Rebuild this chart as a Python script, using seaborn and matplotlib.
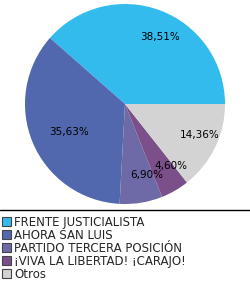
import matplotlib
matplotlib.use("Agg")
import matplotlib.pyplot as plt
import matplotlib.patches as mpatches
from matplotlib.lines import Line2D
import seaborn as sns

# Data
parties = ["FRENTE JUSTICIALISTA", "AHORA SAN LUIS", "PARTIDO TERCERA POSICIÓN",
           "¡VIVA LA LIBERTAD! ¡CARAJO!", "Otros"]
shares = [38.51, 35.63, 6.90, 4.60, 14.36]
colors = ["#33BBEE", "#5168AE", "#6E6AA8", "#7B4F8A", "#D3D3D3"]

sns.set_theme(style="white")
plt.rcParams['font.family'] = ['DejaVu Sans']
palette = sns.color_palette(colors)

fig = plt.figure(figsize=(2.5, 2.85), dpi=100)
ax = fig.add_axes([0.1, 0.284, 0.8, 0.702])

wedges, texts, autotexts = ax.pie(
    shares,
    colors=palette,
    startangle=0,
    counterclock=True,
    autopct=lambda p: f"{p:.2f}%".replace(".", ","),
    pctdistance=0.72,
    wedgeprops=dict(linewidth=0),
    textprops=dict(fontsize=7.5, color="black"),
)
# labels sit a little right of the wedge centroid in the original
for t in autotexts:
    x, y = t.get_position()
    t.set_position((x + 0.1, y))
ax.set_aspect("equal")
ax.set_xlim(-1, 1)
ax.set_ylim(-1, 1)
ax.axis("off")

# separator line above legend
fig.add_artist(Line2D([0, 1], [0.263, 0.263], color="black", linewidth=1))

handles = [mpatches.Patch(facecolor=c, edgecolor="#444444", linewidth=0.8) for c in colors]
fig.legend(handles, parties, loc="upper left", bbox_to_anchor=(0.0, 0.25),
           frameon=False, fontsize=8.5, handlelength=0.8, handleheight=0.8,
           handletextpad=0.25, labelspacing=0.0, borderaxespad=0, borderpad=0.15)

fig.savefig("out.png", dpi=100)
